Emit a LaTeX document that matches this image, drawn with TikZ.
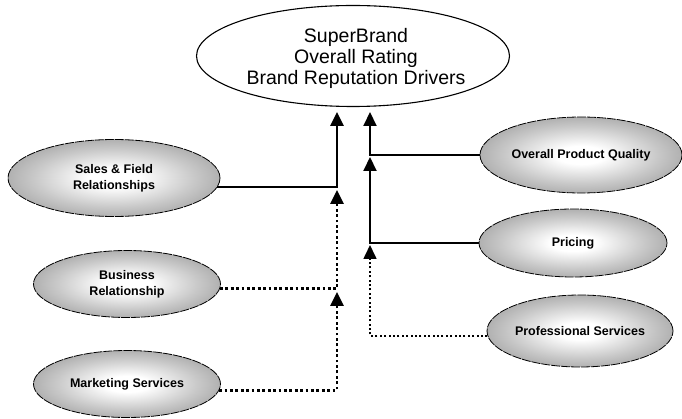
\documentclass[tikz,border=0pt]{standalone}
\usepackage{fontspec}
\setmainfont{Liberation Sans}
\usetikzlibrary{shapes.geometric,arrows.meta}
\definecolor{ellgray}{RGB}{138,138,138}
\definecolor{ellmid}{RGB}{200,200,200}
\pgfdeclareradialshading{drvshade}{\pgfpoint{0bp}{0bp}}{color(0bp)=(white); color(6bp)=(white); color(19bp)=(ellmid); color(35bp)=(ellgray); color(50bp)=(ellgray)}
\tikzset{
  topbox/.style={ellipse, draw=black, line width=1.1pt, fill=white, inner sep=0pt,
     minimum width=313pt, minimum height=101pt},
  toplabel/.style={align=center, inner sep=0pt, font=\fontsize{19.5}{21}\selectfont},
  driver/.style={ellipse, draw=black, line width=0.8pt, dash pattern=on 9pt off 1pt,
     inner sep=0pt, shading=drvshade,
     align=center, font=\bfseries\fontsize{12.5}{16}\selectfont},
  solidlink/.style={line width=2pt, -{Triangle[width=13pt,length=14pt]}},
  thicklink/.style={line width=2.8pt, -{Triangle[width=13pt,length=14pt]}},
  dotlink/.style={line width=2.8pt, dash pattern=on 2.8pt off 2.6pt,
     -{Triangle[width=13pt,length=14pt]}},
  thindotlink/.style={line width=1.6pt, dash pattern=on 2pt off 2.4pt,
     -{Triangle[width=13pt,length=14pt]}},
}
\begin{document}
\begin{tikzpicture}[x=1pt,y=-1pt]
\useasboundingbox (0,0) rectangle (682,419);
% top
\node[topbox] (top) at (353,56) {};
\node[toplabel] (toptext) at (356,58) {SuperBrand\\Overall Rating\\Brand Reputation Drivers};
% left drivers
\node[driver, minimum width=212pt, minimum height=77pt] (sales) at (114,178) {Sales \& Field\\Relationships};
\node[driver, minimum width=187pt, minimum height=67pt] (biz) at (127,284) {Business\\Relationship};
\node[driver, minimum width=187pt, minimum height=67pt] (mkt) at (127,384) {Marketing Services};
% right drivers
\node[driver, minimum width=202pt, minimum height=76pt] (opq) at (581,155) {Overall Product Quality};
\node[driver, minimum width=188pt, minimum height=68pt] (pri) at (573,243) {Pricing};
\node[driver, minimum width=186pt, minimum height=72pt] (prof) at (580,331) {Professional Services};
% arrow tips
\coordinate (a1) at (337,112);
\coordinate (a2) at (337,190);
\coordinate (a3) at (337,292);
\coordinate (b1) at (370,112);
\coordinate (b2) at (370,157);
\coordinate (b3) at (370,245);
% connectors
\draw[thicklink] (sales.-5) -| (a1);
\draw[dotlink] (biz.-3) -| (a2);
\draw[dotlink] (mkt.-4) -| (a3);
\draw[solidlink] (opq.west) -| (b1);
\draw[solidlink] (pri.west) -| (b2);
\draw[thindotlink] (prof.183) -| (b3);
\end{tikzpicture}
\end{document}
